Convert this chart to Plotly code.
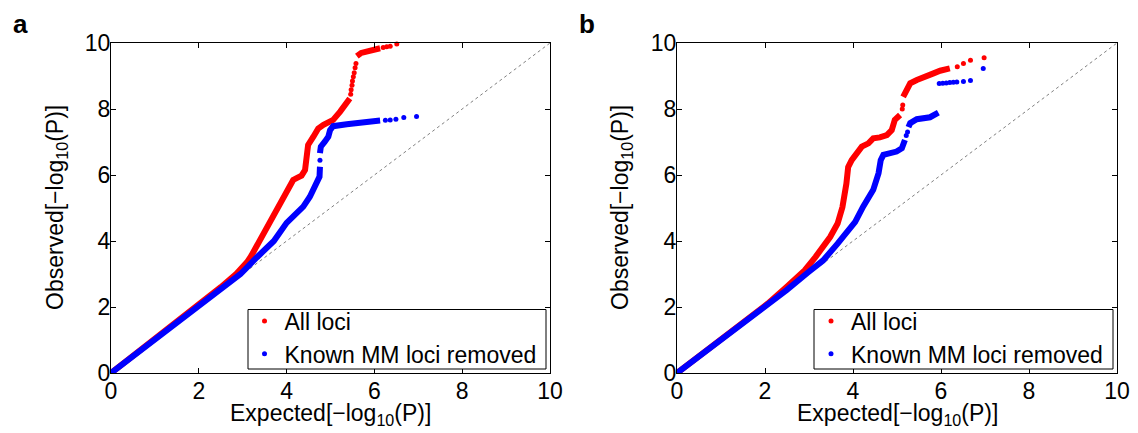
import plotly.graph_objects as go

# ---------------- data ----------------
tick_vals = [0, 2, 4, 6, 8, 10]
tick_text = ["0", "2", "4", "6", "8", "10"]
diag_x = [0, 10]
diag_y = [0, 10]

# Panel a, "All loci" (dense run drawn as thick trace; None separates runs)
a_all_x = [0, 1.0, 2.0, 2.5, 2.85, 3.0, 3.1, 3.2, 3.3, 3.42, 3.59, 3.75, 3.85, 4.0, 4.15, 4.25, 4.34, 4.42, 4.44, 4.49,
           4.61, 4.72, 4.84, 5.06, 5.22, 5.33, 5.44, None, 5.6, 5.63, 5.7, 5.82, 6.0, 6.13]
a_all_y = [0, 1.02, 2.05, 2.6, 3.0, 3.2, 3.36, 3.56, 3.8, 4.12, 4.58, 4.93, 5.19, 5.5, 5.85, 5.92, 5.98, 6.15, 6.55, 6.91,
           7.16, 7.41, 7.52, 7.67, 7.92, 8.12, 8.32, None, 9.6, 9.64, 9.7, 9.74, 9.8, 9.84]
a_all_tail_x = [5.46, 5.47, 5.49, 5.5, 5.52, 5.54, 5.56, 5.58, 6.2, 6.28, 6.36, 6.51]
a_all_tail_y = [8.45, 8.58, 8.72, 8.85, 8.98, 9.1, 9.25, 9.38, 9.86, 9.89, 9.9, 9.97]

# Panel a, "Known MM loci removed"
a_rm_x = [0, 1.0, 2.0, 2.5, 2.95, 3.32, 3.71, 4.0, 4.15, 4.38, 4.53, 4.69, 4.75, 4.76, None,
          4.76, 4.78, 4.87, 4.95, 4.99, 5.06, 5.37, 5.75, 6.13]
a_rm_y = [0, 1.0, 2.0, 2.5, 3.0, 3.5, 4.0, 4.55, 4.74, 5.04, 5.34, 5.75, 5.95, 6.25, None,
          6.66, 6.86, 7.01, 7.16, 7.36, 7.48, 7.54, 7.58, 7.65]
a_rm_tail_x = [4.76, 6.25, 6.36, 6.49, 6.67, 6.96]
a_rm_tail_y = [6.45, 7.66, 7.67, 7.69, 7.74, 7.77]

# Panel b, "All loci"
b_all_x = [0, 1.0, 2.06, 2.49, 2.9, 3.15, 3.32, 3.48, 3.65, 3.76, 3.85, 3.89, 3.97, 4.08, 4.2, 4.35, 4.46,
           4.61, 4.77, 4.88, 4.95, 5.07, None, 5.14, 5.22, 5.3, 5.45, 5.68, 5.83, 5.98, 6.2]
b_all_y = [0, 1.02, 2.1, 2.61, 3.11, 3.52, 3.82, 4.12, 4.53, 5.03, 5.74, 6.24, 6.45, 6.66, 6.86, 6.96, 7.11,
           7.14, 7.21, 7.36, 7.67, 7.82, None, 8.37, 8.58, 8.78, 8.88, 8.98, 9.08, 9.16, 9.23]
b_all_tail_x = [5.12, 5.13, 6.37, 6.51, 6.67, 6.98]
b_all_tail_y = [8.0, 8.12, 9.28, 9.38, 9.48, 9.55]

# Panel b, "Known MM loci removed"
b_rm_x = [0, 1.0, 2.0, 2.49, 2.99, 3.32, 3.65, 3.89, 4.05, 4.23, 4.46, 4.58, 4.63, 4.69, 4.99, 5.11, 5.18,
          None, 5.26, 5.3, 5.45, 5.75, 5.94]
b_rm_y = [0, 1.0, 2.0, 2.51, 3.06, 3.41, 3.92, 4.32, 4.58, 5.04, 5.55, 6.05, 6.45, 6.61, 6.71, 6.81, 7.06,
          None, 7.45, 7.57, 7.69, 7.75, 7.89]
b_rm_tail_x = [5.21, 5.24, 5.96, 6.04, 6.12, 6.2, 6.28, 6.36, 6.51, 6.67, 6.96]
b_rm_tail_y = [7.2, 7.3, 8.77, 8.78, 8.79, 8.8, 8.81, 8.82, 8.83, 8.86, 9.23]

series_names = ["All loci", "Known MM loci removed"]
series_colors = ["#ff0000", "#0000ff"]

# ---------------- figure ----------------
W, H = 1138, 433
FONT = "Liberation Sans, Arial, Helvetica, sans-serif"
FS = 23

def px_x(p):
    return p / W

def px_y(p):
    return (H - p) / H

fig = go.Figure()

panels = [
    ("x", "y", "legend", [(a_all_x, a_all_y, a_all_tail_x, a_all_tail_y),
                          (a_rm_x, a_rm_y, a_rm_tail_x, a_rm_tail_y)]),
    ("x2", "y2", "legend2", [(b_all_x, b_all_y, b_all_tail_x, b_all_tail_y),
                             (b_rm_x, b_rm_y, b_rm_tail_x, b_rm_tail_y)]),
]

for xa, ya, lg, series in panels:
    fig.add_trace(go.Scatter(x=diag_x, y=diag_y, mode="lines", xaxis=xa, yaxis=ya,
                             line=dict(color="#808080", width=1, dash="dot"),
                             showlegend=False, hoverinfo="skip"))
    for (dx, dy, tx, ty), name, col in zip(series, series_names, series_colors):
        fig.add_trace(go.Scatter(x=dx, y=dy, mode="lines", xaxis=xa, yaxis=ya,
                                 line=dict(color=col, width=6), connectgaps=False,
                                 showlegend=False, cliponaxis=False))
        fig.add_trace(go.Scatter(x=tx, y=ty, mode="markers", xaxis=xa, yaxis=ya,
                                 marker=dict(color=col, size=5), name=name,
                                 legend=lg, showlegend=True, cliponaxis=False))

y_dom = [px_y(373), px_y(43)]
ax_common = dict(range=[0, 10], tickvals=tick_vals, ticktext=tick_text, ticks="inside",
                 ticklen=5, tickwidth=1, tickcolor="black", showline=True, linecolor="black",
                 linewidth=1, mirror="ticks", showgrid=False, zeroline=False,
                 tickfont=dict(family=FONT, size=FS, color="black"), automargin=False)
x_common = dict(ax_common, ticklabelstandoff=-3)
y_common = dict(ax_common, ticklabelstandoff=-5)

leg_common = dict(yanchor="middle", y=px_y(337.5), xanchor="left", borderwidth=0,
                  bgcolor="rgba(0,0,0,0)", font=dict(family=FONT, size=FS, color="black"),
                  tracegroupgap=0)

fig.update_layout(
    width=W, height=H,
    margin=dict(l=0, r=0, t=0, b=0),
    paper_bgcolor="white", plot_bgcolor="white",
    font=dict(family=FONT, size=FS, color="black"),
    xaxis=dict(domain=[px_x(111), px_x(550)], anchor="y", **x_common),
    yaxis=dict(domain=y_dom, anchor="x", **y_common),
    xaxis2=dict(domain=[px_x(677), px_x(1117)], anchor="y2", **x_common),
    yaxis2=dict(domain=y_dom, anchor="x2", **y_common),
    legend=dict(x=px_x(244.5), **leg_common),
    legend2=dict(x=px_x(811), **leg_common),
    showlegend=True,
)

# legend frames
shapes = []
for x0, x1 in [(248, 546), (814, 1113)]:
    shapes.append(dict(type="rect", xref="paper", yref="paper", x0=px_x(x0), x1=px_x(x1),
                       y0=px_y(369), y1=px_y(309.5), line=dict(color="black", width=1),
                       fillcolor="white", layer="above"))
fig.update_layout(shapes=shapes)

xt = "Expected[\u2212log<sub>10</sub>(P)]"
yt = "Observed[\u2212log<sub>10</sub>(P)]"
ann = []
for cx, ycx in [((111 + 550) / 2, 56), ((677 + 1117) / 2, 621)]:
    ann.append(dict(x=px_x(cx), y=px_y(414), xref="paper", yref="paper", text=xt, showarrow=False,
                    xanchor="center", yanchor="middle", font=dict(family=FONT, size=FS, color="black")))
    ann.append(dict(x=px_x(ycx), y=px_y(208), xref="paper", yref="paper", text=yt, showarrow=False,
                    textangle=-90, xanchor="center", yanchor="middle",
                    font=dict(family=FONT, size=FS, color="black")))
for lx, lab in [(20, "a"), (587, "b")]:
    ann.append(dict(x=px_x(lx), y=px_y(24), xref="paper", yref="paper", text="<b>" + lab + "</b>",
                    showarrow=False, xanchor="center", yanchor="middle",
                    font=dict(family=FONT, size=26, color="black")))
fig.update_layout(annotations=ann)

fig.write_html("out.html", config={"displayModeBar": False},
               post_script="document.body.style.margin='0px';")
